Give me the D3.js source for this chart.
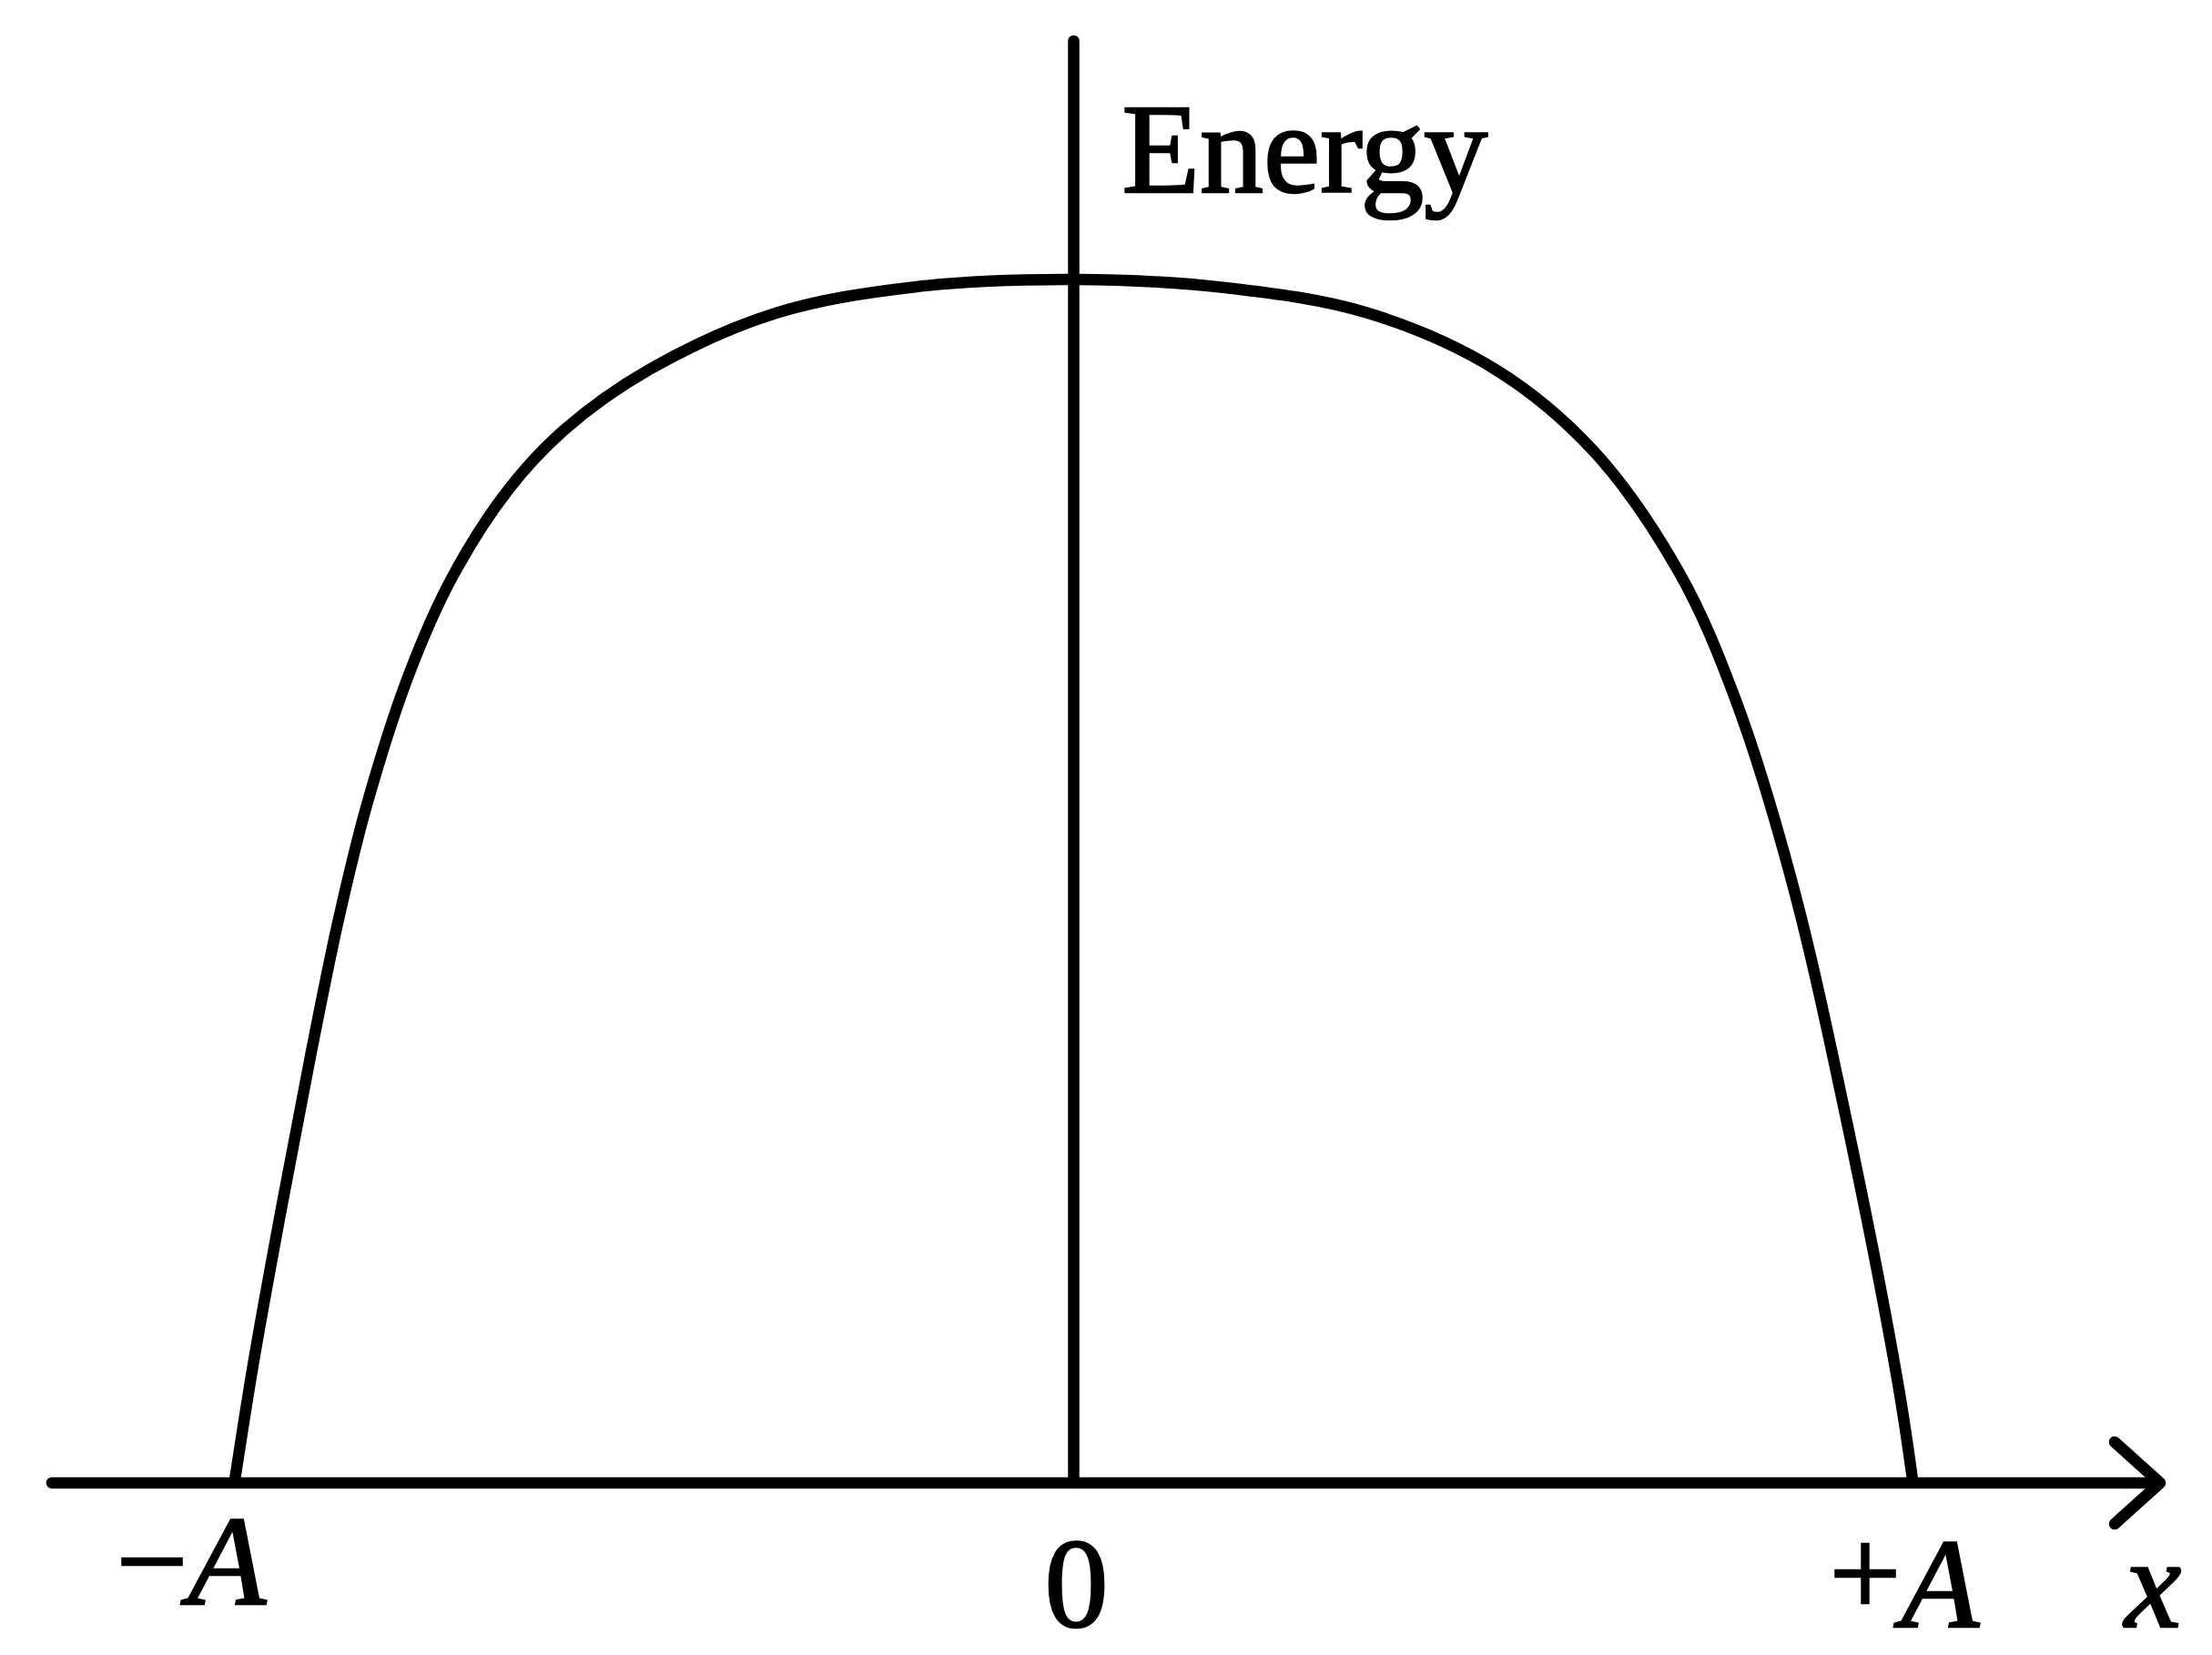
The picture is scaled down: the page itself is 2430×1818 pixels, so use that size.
<!DOCTYPE html>
<html>
<head>
<meta charset="utf-8">
<script src="https://cdn.jsdelivr.net/npm/d3@7"></script>
<style>
  html, body { margin: 0; padding: 0; background: #fff; }
  svg { display: block; }
  text { font-family: "Liberation Serif", "Times New Roman", Times, serif; fill: #000; stroke: #000; stroke-width: 2.4px; }
</style>
</head>
<body>
<svg id="chart" width="2430" height="1818"></svg>
<script>
// ---- Data (x in units of amplitude A, energy normalised to its peak) ----
const positions = [
  -1.000, -0.977, -0.943, -0.909, -0.876, -0.842, -0.792, -0.741, -0.674, -0.607,
  -0.506, -0.355, -0.187, 0.000, 0.183, 0.351, 0.503, 0.620, 0.721, 0.788,
  0.856, 0.923, 0.982, 1.000
];
const energy = [
  0.000, 0.101, 0.232, 0.356, 0.468, 0.564, 0.672, 0.752, 0.825, 0.875,
  0.925, 0.972, 0.994, 1.000, 0.993, 0.972, 0.925, 0.857, 0.757, 0.652,
  0.499, 0.294, 0.083, 0.000
];
const tickValues = [-1, 0, 1];
const tickLabels = [
  [{t: "\u2212", it: false}, {t: "A", it: true}],
  [{t: "0", it: false}],
  [{t: "+", it: false, dy: -12}, {t: "A", it: true, dy: 12}]
];
const yLabel = "Energy";
const xLabel = "x";

// ---- Layout ----
const svg = d3.select("#chart");
const x = d3.scaleLinear().domain([-1, 1]).range([257.5, 2101.5]);
const y = d3.scaleLinear().domain([0, 1]).range([1629, 307]);
const axisW = 12.5;
const fontSize = 140;

// x axis line + arrow head
const x0 = 57, xTip = 2373;
svg.append("line")
  .attr("x1", x0).attr("y1", y(0)).attr("x2", xTip - 4).attr("y2", y(0))
  .attr("stroke", "#000").attr("stroke-width", axisW).attr("stroke-linecap", "round");
svg.append("path")
  .attr("d", d3.line()([[xTip - 50, y(0) - 45], [xTip, y(0)], [xTip - 50, y(0) + 45]]))
  .attr("fill", "none").attr("stroke", "#000").attr("stroke-width", axisW)
  .attr("stroke-linecap", "round").attr("stroke-linejoin", "round");

// y axis line
svg.append("line")
  .attr("x1", x(0)).attr("y1", 45).attr("x2", x(0)).attr("y2", y(0))
  .attr("stroke", "#000").attr("stroke-width", axisW).attr("stroke-linecap", "round");

// energy curve
const pts = positions.map((p, i) => [p, energy[i]]);
svg.append("path")
  .datum(pts)
  .attr("d", d3.line().x(d => x(d[0])).y(d => y(d[1])).curve(d3.curveCatmullRom.alpha(0.5)))
  .attr("fill", "none").attr("stroke", "#000").attr("stroke-width", 12.5)
  .attr("stroke-linejoin", "round");

// tick labels
const labelPos = [
  {dx: -130, y: 1762, anchor: "start"},
  {dx: 3, y: 1787, anchor: "middle"},
  {dx: -92, y: 1787, anchor: "start"}
];
tickValues.forEach((v, i) => {
  const t = svg.append("text")
    .attr("x", x(v) + labelPos[i].dx).attr("y", labelPos[i].y)
    .attr("text-anchor", labelPos[i].anchor)
    .attr("font-size", fontSize);
  tickLabels[i].forEach(part => {
    const s = t.append("tspan").text(part.t);
    if (part.it) s.attr("font-style", "italic");
    if (part.dy) s.attr("dy", part.dy);
  });
});

// axis titles
svg.append("text")
  .attr("x", x(0) + 53).attr("y", 211)
  .attr("font-size", fontSize).text(yLabel);
svg.append("text")
  .attr("x", 2334).attr("y", 1787)
  .attr("font-size", fontSize).attr("font-style", "italic").text(xLabel);
</script>
</body>
</html>
